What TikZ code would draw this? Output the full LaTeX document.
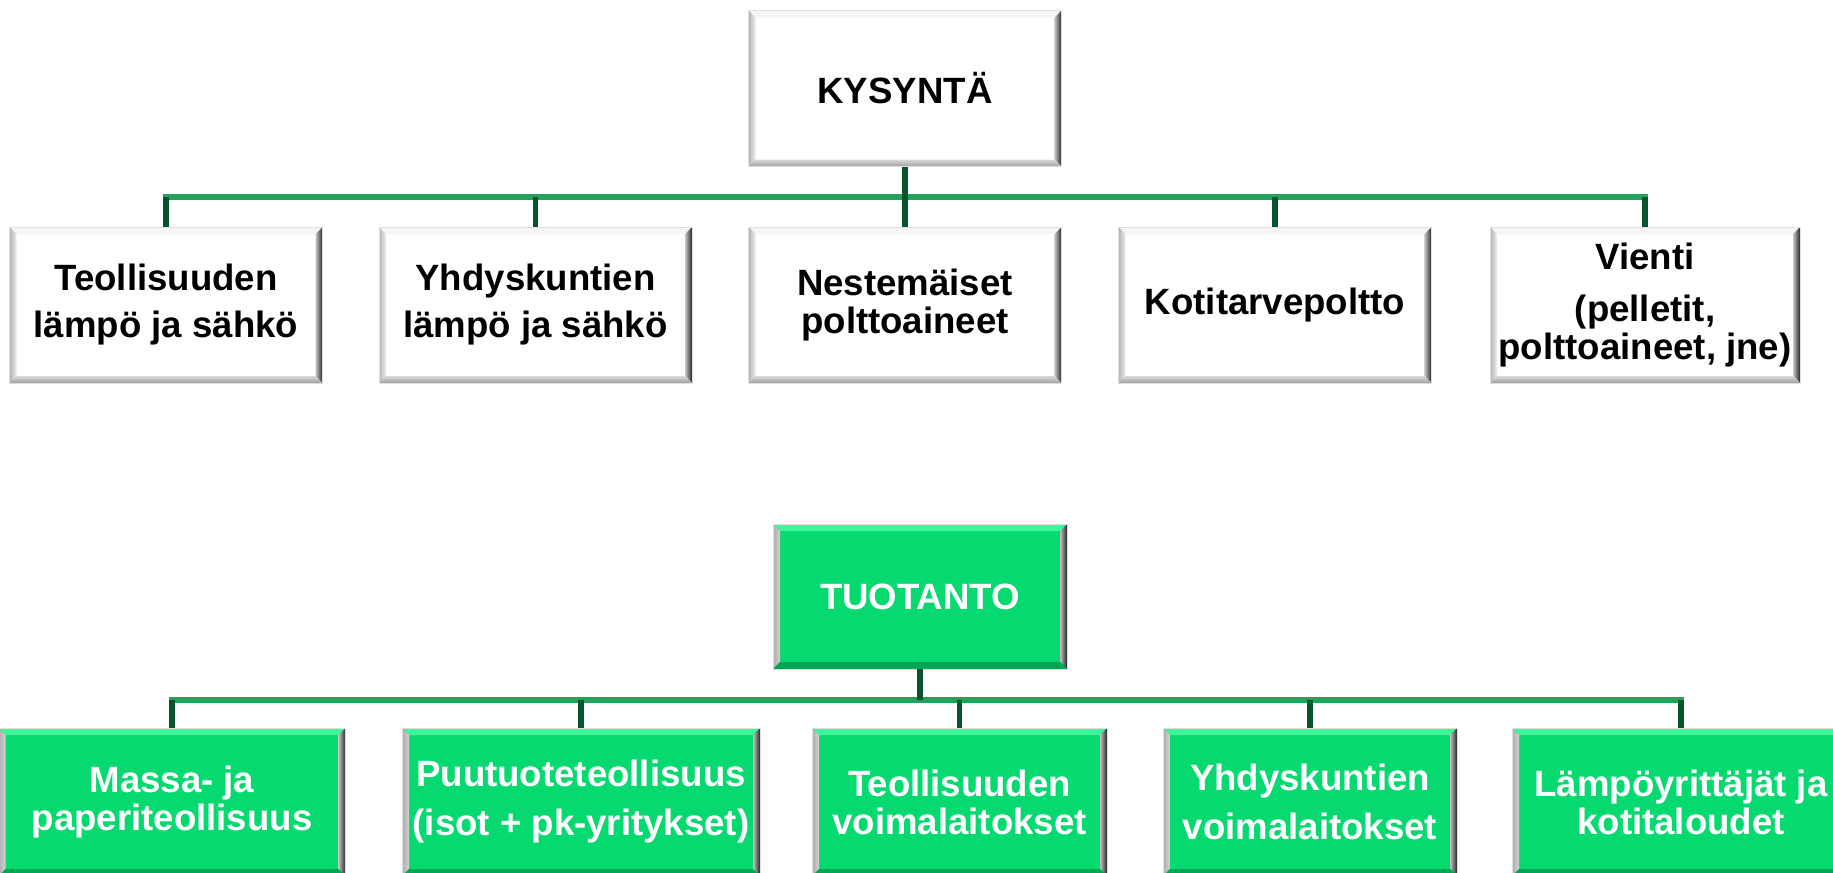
\documentclass[tikz,border=0pt]{standalone}
\usepackage{fontspec}
\setmainfont{Liberation Sans}
\definecolor{busgreen}{RGB}{36,162,92}
\definecolor{dropgreen}{RGB}{8,82,44}
\definecolor{tuogreen}{RGB}{6,217,112}
\definecolor{tuolight}{RGB}{64,244,154}
\definecolor{tuodark}{RGB}{0,165,82}
\def\bw{7}

\begin{document}
\begin{tikzpicture}[x=0.5pt,y=-0.5pt,
    font=\bfseries\fontsize{18.3}{19}\selectfont,
    bevel/.style n args={4}{path picture={
        \path (path picture bounding box.north west) coordinate (q1)
              (path picture bounding box.north east) coordinate (q2)
              (path picture bounding box.south east) coordinate (q3)
              (path picture bounding box.south west) coordinate (q4);
        \path[#1] (q1) -- (q2) -- ([shift={(-\bw,\bw)}]q2) -- ([shift={(\bw,\bw)}]q1) -- cycle;
        \path[#2] (q1) -- ([shift={(\bw,\bw)}]q1) -- ([shift={(\bw,-\bw)}]q4) -- (q4) -- cycle;
        \path[#3] (q2) -- (q3) -- ([shift={(-\bw,-\bw)}]q3) -- ([shift={(-\bw,\bw)}]q2) -- cycle;
        \path[#4] (q4) -- (q3) -- ([shift={(-\bw,-\bw)}]q3) -- ([shift={(\bw,-\bw)}]q4) -- cycle;
      }},
    demand/.style={rectangle, draw=gray!25, line width=0.4pt, fill=white,
      align=center, inner sep=0pt, minimum width=156.5pt, minimum height=78pt,
      bevel={fill=gray!8}{left color=gray!60, right color=gray!12}
        {left color=gray!45, right color=black!85}{top color=gray!30, bottom color=gray!75}},
    supply/.style={rectangle, draw=gray!25, line width=0.4pt, fill=tuogreen,
      text=white, align=center, inner sep=0pt, minimum height=74pt,
      bevel={fill=tuolight}{left color=gray!65, right color=gray!35}
        {left color=gray!50, right color=black!85}{fill=tuodark}},
    bus/.style={draw=busgreen, line width=2.8pt, line cap=rect},
    drop/.style={draw=dropgreen, line width=2.8pt}]

  \useasboundingbox (0,0) rectangle (1833,873);
  \clip (0,0) rectangle (1833,873);

  \node[demand] (kys) at (905,88.5) {KYSYNTÄ};
  \node[demand] (dem1) at (166,305) {Teollisuuden\\[4.5pt]lämpö ja sähkö};
  \node[demand] (dem2) at (535.5,305) {Yhdyskuntien\\[4.5pt]lämpö ja sähkö};
  \node[demand] (dem3) at (905,305) {Nestemäiset\\polttoaineet};
  \node[demand] (dem4) at (1275,305) {Kotitarvepoltto};
  \node[demand, minimum width=155pt] (dem5) at (1645,305) {Vienti\\[7pt](pelletit,\\polttoaineet, jne)};

  \node[supply, minimum width=147pt, minimum height=72.5pt] (tuo) at (920,596.5) {TUOTANTO};
  \node[supply, minimum width=173.5pt] (sup1) at (172,802) {Massa- ja\\paperiteollisuus};
  \node[supply, minimum width=179pt] (sup2) at (581,802) {Puutuoteteollisuus\\[5.5pt](isot + pk-yritykset)};
  \node[supply, minimum width=147.5pt] (sup3) at (959.5,802) {Teollisuuden\\voimalaitokset};
  \node[supply, minimum width=147pt] (sup4) at (1310,802) {Yhdyskuntien\\[5.5pt]voimalaitokset};
  \node[supply, minimum width=169pt] (sup5) at (1681,802) {Lämpöyrittäjät ja\\kotitaloudet};

  \coordinate (busK) at (905,197);
  \coordinate (busT) at (921,700);

  \draw[bus] (dem1.north |- busK) -- (dem5.north |- busK);
  \draw[drop] (kys) -- (dem3);
  \foreach \n in {dem1,dem2,dem4,dem5}
    \draw[drop] (\n.north) -- (\n.north |- busK);

  \draw[bus] (sup1.north |- busT) -- (sup5.north |- busT);
  \draw[drop] (tuo) -- (tuo.south |- busT);
  \foreach \n in {sup1,sup2,sup3,sup4,sup5}
    \draw[drop] (\n.north) -- (\n.north |- busT);
\end{tikzpicture}
\end{document}
